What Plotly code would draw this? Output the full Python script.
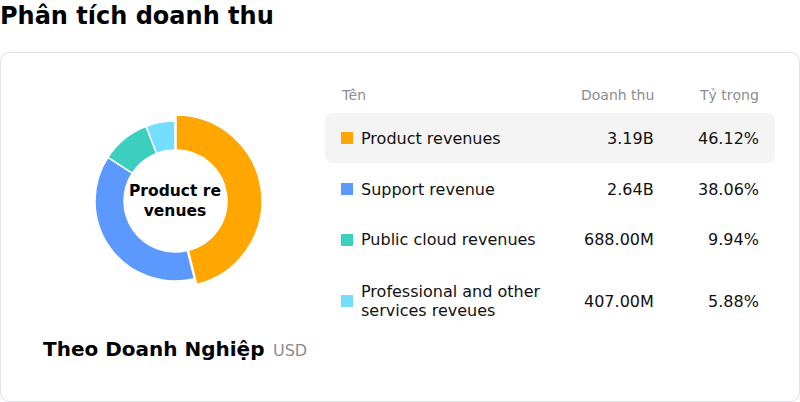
import plotly.graph_objects as go

W, H = 800, 402

categories = ["Product revenues", "Support revenue", "Public cloud revenues",
              "Professional and other<br>services reveues"]
revenue_labels = ["3.19B", "2.64B", "688.00M", "407.00M"]
share_pct = [46.12, 38.06, 9.94, 5.88]
share_labels = ["46.12%", "38.06%", "9.94%", "5.88%"]
colors = ["#FFA600", "#5B99FF", "#3CCFBF", "#73DEFF"]
headers = ["Tên", "Doanh thu", "Tỷ trọng"]

FONT = "DejaVu Sans"


def px(x):
    return x / W


def py(y):
    return 1 - y / H


def rrect(x0, y0, x1, y1, r):
    X0, X1 = px(x0), px(x1)
    Y0, Y1 = py(y0), py(y1)
    rx, ry = r / W, r / H
    return (f"M{X0+rx},{Y0} L{X1-rx},{Y0} Q{X1},{Y0} {X1},{Y0-ry} "
            f"L{X1},{Y1+ry} Q{X1},{Y1} {X1-rx},{Y1} L{X0+rx},{Y1} "
            f"Q{X0},{Y1} {X0},{Y1+ry} L{X0},{Y0-ry} Q{X0},{Y0} {X0+rx},{Y0} Z")


cx, cy = 175, 201
r_out, r_in, r_hi = 80, 51, 86

fig = go.Figure()
fig.add_trace(go.Pie(
    values=share_pct, labels=categories, sort=False, direction="clockwise",
    rotation=0, hole=r_in / r_out, textinfo="none", hoverinfo="skip",
    marker=dict(colors=colors, line=dict(color="white", width=1.5)),
    domain=dict(x=[px(cx - r_out), px(cx + r_out)], y=[py(cy + r_out), py(cy - r_out)]),
    showlegend=False,
))
fig.add_trace(go.Pie(
    values=share_pct, labels=categories, sort=False, direction="clockwise",
    rotation=0, hole=r_in / r_hi, textinfo="none", hoverinfo="skip",
    marker=dict(colors=[colors[0], "rgba(0,0,0,0)", "rgba(0,0,0,0)", "rgba(0,0,0,0)"],
                line=dict(color=["white", "rgba(0,0,0,0)", "rgba(0,0,0,0)", "rgba(0,0,0,0)"],
                          width=[1.5, 0, 0, 0])),
    domain=dict(x=[px(cx + 1 - r_hi), px(cx + 1 + r_hi)], y=[py(cy + r_hi), py(cy - r_hi)]),
    showlegend=False,
))

shapes = [
    dict(type="path", path=rrect(0.5, 52.5, 799.5, 401.5, 10), xref="paper", yref="paper",
         line=dict(color="#E2E2EC", width=1), fillcolor="white", layer="below"),
    dict(type="path", path=rrect(325, 113, 775, 163, 9), xref="paper", yref="paper",
         line=dict(width=0), fillcolor="#F4F4F4", layer="below"),
]

ann = []


def text(x, y, s, size, color="#111", bold=False, xanchor="left", align="left"):
    ann.append(dict(x=px(x), y=py(y), xref="paper", yref="paper", text=f"<b>{s}</b>" if bold else s,
                    showarrow=False, xanchor=xanchor, yanchor="middle", align=align,
                    font=dict(family=FONT, size=size, color=color)))


text(-2, 16, "Phân tích doanh thu", 24, "#000", bold=True)
text(cx, cy, "Product re<br>venues", 15.5, "#000", bold=True, xanchor="center", align="center")
text(41, 349, "Theo Doanh Nghiệp", 20, "#000", bold=True)
text(271, 350, "USD", 16, "#8C8C8C")

text(339, 95, headers[0], 14, "#8C8C8C")
text(656, 95, headers[1], 14, "#8C8C8C", xanchor="right")
text(761, 95, headers[2], 14, "#8C8C8C", xanchor="right")

row_y = [138, 189, 240, 301]
for i, yc in enumerate(row_y):
    shapes.append(dict(type="rect", xref="paper", yref="paper",
                       x0=px(341), x1=px(353), y0=py(yc + 6), y1=py(yc - 6),
                       fillcolor=colors[i], line=dict(width=0)))
    lines = categories[i].split("<br>")
    n = len(lines)
    for j, ln in enumerate(lines):
        text(359, yc + (j - (n - 1) / 2) * 19, ln, 16, "#111")
    text(656, yc, revenue_labels[i], 16, "#111", xanchor="right")
    text(761, yc, share_labels[i], 16, "#111", xanchor="right")

fig.update_layout(
    width=W, height=H, margin=dict(l=0, r=0, t=0, b=0),
    paper_bgcolor="white", plot_bgcolor="white",
    shapes=shapes, annotations=ann,
    xaxis=dict(visible=False), yaxis=dict(visible=False),
)

fig.write_html("out.html", config={"displayModeBar": False},
               post_script="document.body.style.margin='0';")
